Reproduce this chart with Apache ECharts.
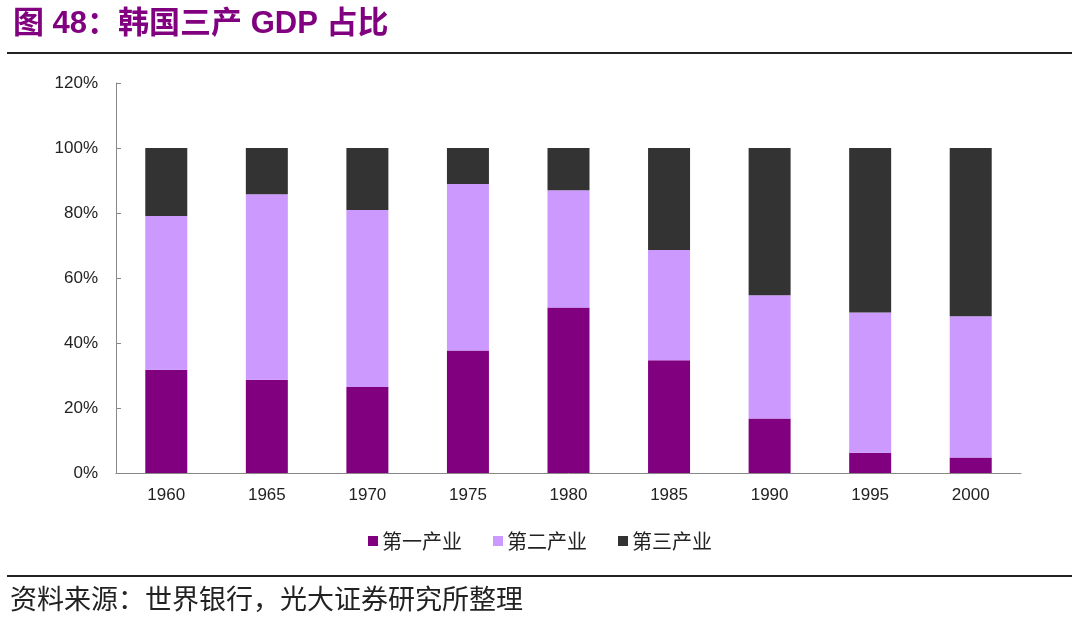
<!DOCTYPE html>
<html><head><meta charset="utf-8">
<script src="https://cdn.jsdelivr.net/npm/echarts@6/dist/echarts.min.js"></script>
<style>html,body{margin:0;padding:0;background:#fff}#c{width:1080px;height:623px}</style>
</head><body><div id="c"></div>
<script>
const categories = ['1960','1965','1970','1975','1980','1985','1990','1995','2000'];
const primary   = [31.8, 28.7, 26.5, 37.7, 50.9, 34.7, 16.8, 6.2, 4.8];
const secondary = [47.3, 57.1, 54.4, 51.2, 36.1, 33.9, 37.9, 43.2, 43.4];
const tertiary  = [20.9, 14.2, 19.1, 11.1, 13.0, 31.4, 45.3, 50.6, 51.8];
const seriesNames = ['第一产业','第二产业','第三产业'];
const colors = ['#800080','#cc99ff','#333333'];

const chart = echarts.init(document.getElementById('c'));
const mk = (name, data, color) => ({
  name, type:'bar', stack:'total', data, barWidth:42,
  itemStyle:{color}, emphasis:{disabled:true}
});
chart.setOption({
  animation:false,
  title:{text:'图 48：韩国三产 GDP 占比', left:8, top:4,
    textStyle:{color:'#800080', fontSize:31, fontWeight:'bold', fontFamily:'Liberation Sans, Noto Sans CJK SC'}},
  graphic:[
    {type:'line', shape:{x1:7,y1:53,x2:1072,y2:53}, style:{stroke:'#222',lineWidth:2}},
    {type:'line', shape:{x1:7,y1:576,x2:1072,y2:576}, style:{stroke:'#222',lineWidth:2}},
    {type:'text', left:10, top:585, style:{text:'资料来源：世界银行，光大证券研究所整理', fill:'#222', font:'27px "Noto Sans CJK SC"'}}
  ],
  legend:{bottom:67, left:'center', itemWidth:10, itemHeight:10, itemGap:31, icon:'rect',
    data:seriesNames, textStyle:{fontSize:20, color:'#222', fontFamily:'Noto Sans CJK SC', padding:[0,0,0,-1]}},
  grid:{left:116, right:59, top:83, bottom:150},
  xAxis:{type:'category', data:categories,
    axisLine:{lineStyle:{color:'#888'}},
    axisTick:{inside:true, length:5, lineStyle:{color:'#888'}},
    axisLabel:{color:'#222', fontSize:17, margin:14, fontFamily:'Liberation Sans'}},
  yAxis:{type:'value', min:0, max:120, interval:20,
    axisLine:{show:true, lineStyle:{color:'#888'}},
    axisTick:{show:true, inside:true, length:5, lineStyle:{color:'#888'}},
    splitLine:{show:false},
    axisLabel:{color:'#222', fontSize:17, margin:18, formatter:'{value}%', fontFamily:'Liberation Sans'}},
  series:[mk(seriesNames[0], primary, colors[0]), mk(seriesNames[1], secondary, colors[1]), mk(seriesNames[2], tertiary, colors[2])]
});
</script></body></html>
